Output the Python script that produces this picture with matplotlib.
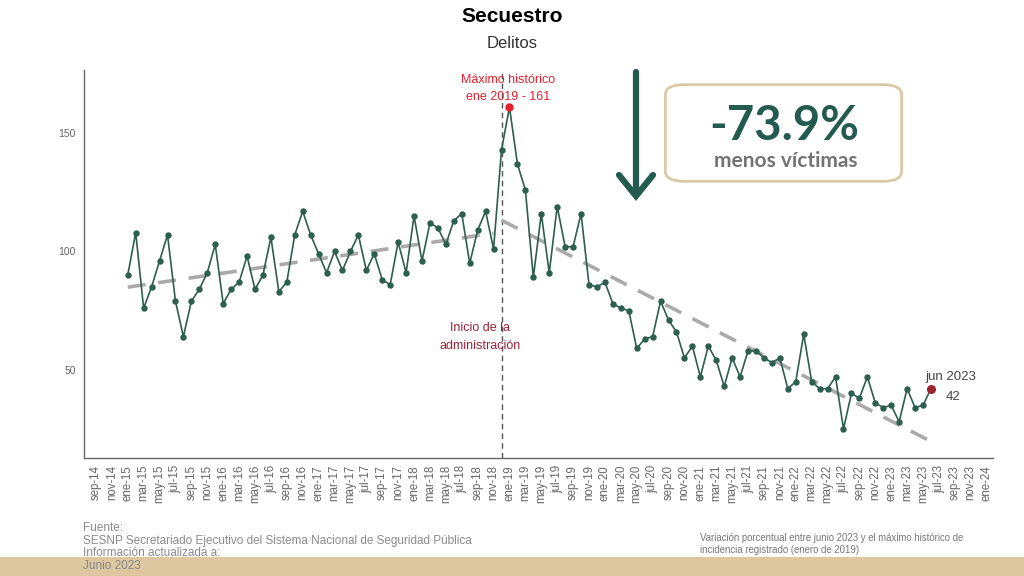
import matplotlib
matplotlib.use("Agg")
import matplotlib.pyplot as plt
import numpy as np
from matplotlib.patches import FancyBboxPatch, Rectangle
from matplotlib.lines import Line2D

plt.rcParams["font.family"] = ["Liberation Sans", "DejaVu Sans"]

# víctimas de secuestro por mes, ene-2015 .. jun-2023
v2015 = [90, 108, 76, 85, 96, 107, 79, 64, 79, 84, 91, 103]
v2016 = [78, 84, 87, 98, 84, 90, 106, 83, 87, 107, 117, 107]
v2017 = [99, 91, 100, 92, 100, 107, 92, 99, 88, 86, 104, 91]
v2018 = [115, 96, 112, 110, 103, 113, 116, 95, 109, 117, 101, 143]
v2019 = [161, 137, 126, 89, 116, 91, 119, 102, 102, 116, 86, 85]
v2020 = [87, 78, 76, 75, 59, 63, 64, 79, 71, 66, 55, 60]
v2021 = [47, 60, 54, 43, 55, 47, 58, 58, 55, 53, 55, 42]
v2022 = [45, 65, 45, 42, 42, 47, 25, 40, 38, 47, 36, 34]
v2023 = [35, 28, 42, 34, 35, 42]
victimas = np.array(v2015 + v2016 + v2017 + v2018 + v2019 + v2020 + v2021 + v2022 + v2023)

# eje x: meses desde sep-2014
month_names = ["ene", "feb", "mar", "abr", "may", "jun",
               "jul", "ago", "sep", "oct", "nov", "dic"]
first_month = 4          # ene-15
admin_month = 51         # dic-18
peak_month = 52          # ene-19
tick_months = np.arange(0, 113, 2)
tick_labels = [f"{month_names[(8 + m) % 12]}-{(2014 + (8 + m) // 12) % 100:02d}"
               for m in tick_months]
months = np.arange(first_month, first_month + len(victimas))
y_ticks = [50, 100, 150]

GREEN = "#2d5e4f"
DARK_GREEN = "#235b4e"
TAN = "#dcc7a0"

fig = plt.figure(figsize=(10.24, 5.76), dpi=100)
fig.patch.set_facecolor("white")


def fx(px):
    return px / 1024


def fy(py):
    return 1 - py / 576


ax = fig.add_axes([fx(84), fy(458), fx(993) - fx(84), fy(70) - fy(458)])
ax.set_facecolor("none")

# tendencias
pre = months < admin_month
post = months >= admin_month
for mask in (pre, post):
    coef = np.polyfit(months[mask], victimas[mask], 1)
    xs = months[mask][[0, -1]]
    ax.plot(xs, np.polyval(coef, xs), color="#aaaaaa", lw=2.6,
            dashes=(5, 3.5), zorder=2)

ax.plot(months, victimas, color=GREEN, lw=1.2, marker="o", ms=3.6, zorder=3)
ax.plot(months[months == peak_month], victimas[months == peak_month], "o",
        color="#e3202b", ms=5, zorder=4)
ax.plot(months[-1:], victimas[-1:], "o", color="#9e2230", ms=5.5, zorder=4)

ax.axvline(admin_month, color="#555555", lw=1, ls=(0, (4, 3)), zorder=1)

ax.set_xlim(-1.5, 112.8)
ax.set_ylim(12.7, 176.7)
ax.set_xticks(tick_months)
ax.set_xticklabels(tick_labels, rotation=90, fontsize=8.3, color="#666666")
ax.set_yticks(y_ticks)
ax.set_yticklabels([str(t) for t in y_ticks], fontsize=7.5, color="#666666")
ax.tick_params(length=0, pad=6)
ax.tick_params(axis="x", pad=5)
for s in ("top", "right"):
    ax.spines[s].set_visible(False)
for s in ("left", "bottom"):
    ax.spines[s].set_color("#666666")
    ax.spines[s].set_linewidth(1)

ax.text(peak_month - 0.2, 168.9, "Máximo histórico\nene 2019 - 161", ha="center",
        va="center", fontsize=9, color="#e3202b", linespacing=1.65)
ax.text(48.3, 63.9, "Inicio de la\nadministración", ha="center", va="center",
        fontsize=9, color="#9e2235", linespacing=1.6)
ax.text(107.5, 47, "jun 2023", ha="center", va="center", fontsize=9.5,
        color="#444444")
ax.text(107.8, 38.6, str(victimas[-1]), ha="center", va="center",
        fontsize=9.5, color="#444444")

# títulos
fig.text(0.5, fy(17), "Secuestro", ha="center", va="center", fontsize=15,
         fontweight="bold", color="black")
fig.text(0.5, fy(43), "Delitos", ha="center", va="center", fontsize=12,
         color="#333333")

# flecha
ax_x, top_y, tip_y = 636, 72, 196
fig.add_artist(Line2D([fx(ax_x), fx(ax_x)], [fy(top_y), fy(tip_y - 2)],
                      color=DARK_GREEN, lw=4.5, solid_capstyle="round"))
fig.add_artist(Line2D([fx(ax_x - 17), fx(ax_x), fx(ax_x + 17)],
                      [fy(tip_y - 21), fy(tip_y), fy(tip_y - 21)],
                      color=DARK_GREEN, lw=4.5, solid_capstyle="round",
                      solid_joinstyle="miter"))

# recuadro
box = FancyBboxPatch((fx(673), fy(177)), fx(894) - fx(673),
                     fy(89) - fy(177), transform=fig.transFigure,
                     boxstyle="round,pad=0.0075,rounding_size=0.018",
                     facecolor="white", edgecolor="#d9caa5", lw=2)
fig.add_artist(box)
fig.text(fx(784), fy(126), "-73.9%", ha="center", va="center", fontsize=34,
         fontweight="bold", color=DARK_GREEN, family=["Lato", "DejaVu Sans"])
fig.text(fx(786), fy(161), "menos víctimas", ha="center", va="center",
         fontsize=15, fontweight="bold", color="#737373",
         family=["Lato", "DejaVu Sans"])

# franja inferior
fig.add_artist(Rectangle((0, 0), 1, fy(557), transform=fig.transFigure,
                         facecolor=TAN, edgecolor="none", zorder=0))

fig.text(fx(83), fy(547), "Fuente:\nSESNP Secretariado Ejecutivo del Sistema "
         "Nacional de Seguridad Pública\nInformación actualizada a:\nJunio 2023",
         ha="left", va="center", fontsize=8.5, color="#8a8a8a", linespacing=1.1)
fig.text(fx(700), fy(544), "Variación porcentual entre junio 2023 y el máximo "
         "histórico de\nincidencia registrado (enero de 2019)", ha="left",
         va="center", fontsize=6.9, color="#777777", linespacing=1.3)

fig.savefig("out.png", dpi=100)
